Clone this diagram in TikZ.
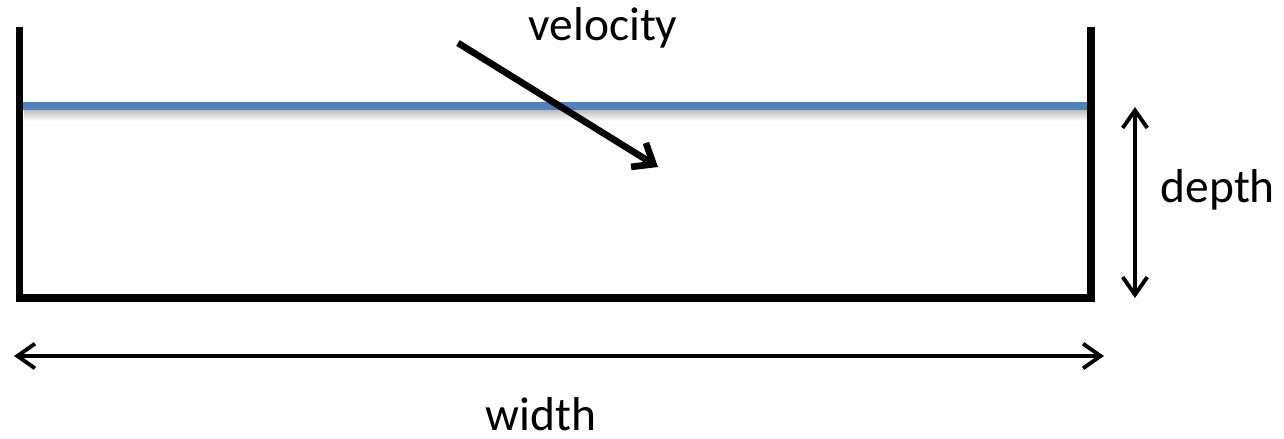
\documentclass[tikz,border=0pt]{standalone}
\usepackage{fontspec}
\setmainfont{Carlito}
\usetikzlibrary{arrows.meta}
\begin{document}
\begin{tikzpicture}[x=0.01cm,y=-0.01cm,
  wall/.style={line width=2.2pt,line join=miter},
  water/.style={line width=2pt,draw={rgb,255:red,79;green,129;blue,189}},
  dimarrow/.style={line width=1pt,{Straight Barb[length=5pt,width=7pt,line width=1.1pt]}-{Straight Barb[length=5pt,width=7pt,line width=1.1pt]}},
  velarrow/.style={line width=1.9pt,-{Straight Barb[length=5pt,width=8pt]}},
  lbl/.style={font=\fontsize{13.5}{16}\selectfont,inner sep=0pt}]
\useasboundingbox (0,0) rectangle (1284,438);
\coordinate (tl) at (19.5,27);
\coordinate (bl) at (19.5,298);
\coordinate (br) at (1091,298);
\coordinate (tr) at (1091,27);
\coordinate (wl) at (20,106);
\coordinate (wr) at (1088,106);
% shadow under water line
\shade[top color=black!28,bottom color=white] (24,109) rectangle (1087,121);
\draw[water] (wl) -- (wr);
\draw[wall] (tl) -- (bl) -- (br) -- (tr);
% velocity
\coordinate (v1) at (458,43);
\coordinate (v2) at (658,167);
\draw[velarrow] (v1) -- (v2);
\node[lbl] (vel) at (603,28) {velocity};
% depth
\coordinate (d1) at (1135,107);
\coordinate (d2) at (1135,298);
\draw[dimarrow] (d1) -- (d2);
\node[lbl,anchor=west] (dep) at (1160,190) {depth};
% width
\coordinate (w1) at (14,356);
\coordinate (w2) at (1104,356);
\draw[dimarrow] (w1) -- (w2);
\node[lbl] (wid) at (541,414) {width};
\end{tikzpicture}
\end{document}
